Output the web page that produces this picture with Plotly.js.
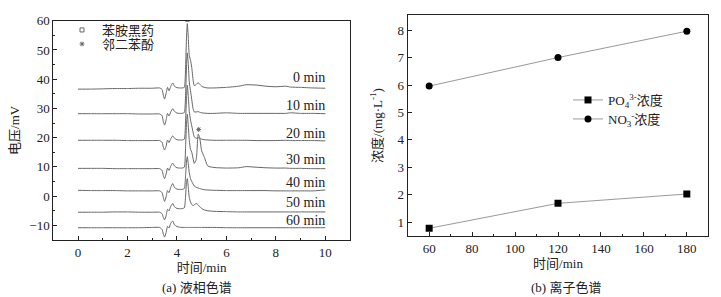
<!DOCTYPE html>
<html>
<head>
<meta charset="utf-8">
<script src="https://cdn.plot.ly/plotly-3.0.1.min.js"></script>
<style>html,body{margin:0;padding:0;background:#fff;}#chart{width:721px;height:297px;}</style>
</head>
<body>
<div id="chart"></div>
<script>
// ---- (a) liquid chromatogram data (time in min, voltage in mV) ----
const lcTime = [0, 0.5, 1, 1.5, 2, 2.5, 3, 3.3, 3.4, 3.45, 3.5, 3.56, 3.62, 3.68, 3.75, 3.83, 3.9, 4.0, 4.1, 4.2, 4.3, 4.35, 4.39, 4.42, 4.46, 4.5, 4.55, 4.6, 4.65, 4.7, 4.78, 4.86, 4.92, 5.0, 5.1, 5.25, 5.5, 6.0, 6.5, 6.8, 7.2, 7.6, 8.0, 8.4, 8.6, 9.0, 9.5, 10];
const lc0min  = [36.6,36.6,36.7,36.8,36.8,36.9,36.9,37.0,36.5,34.5,33.2,35.0,37.2,36.0,37.5,38.7,37.6,37.1,37.0,37.0,37.2,44,55,59.0,54,48,46.5,44,40,37.8,38.2,38.8,38.3,37.6,37.2,37.0,37.0,37.2,37.6,38.1,38.0,37.6,37.4,37.6,37.3,37.2,37.0,36.9];
const lc10min = [28.2,28.2,28.2,28.2,28.2,28.1,28.1,28.1,27.5,25.5,24.3,26.0,28.3,27.4,28.8,29.9,29.0,28.4,28.3,28.3,28.6,35,45,49,45,39,36,33,30,28.8,28.8,28.9,28.7,28.5,28.4,28.3,28.3,28.5,28.3,28.3,28.3,28.3,28.3,28.3,28.5,28.3,28.3,28.2];
const lc20min = [19.1,19.1,19.1,19.1,19.0,19.0,19.0,19.0,18.4,16.8,15.8,17.0,19.2,18.3,19.6,20.6,19.8,19.3,19.2,19.2,19.5,26,34,38,34,29,26,24,22,20.3,19.8,20.0,19.8,19.5,19.3,19.2,19.1,19.1,19.1,19.1,19.0,19.0,19.0,19.1,19.0,19.0,19.0,18.9];
const lc30min = [9.5,9.5,9.5,9.4,9.4,9.4,9.4,9.4,8.8,7.0,6.0,7.5,9.6,8.8,10.2,11.3,10.3,9.7,9.6,9.6,9.9,17,25,28,24,19,16,15,13,11.2,12.5,21.2,20.0,15.5,13.5,10.3,9.8,9.6,9.7,10.1,9.9,9.7,9.6,9.6,9.5,9.5,9.4,9.4];
const lc40min = [2.0,1.9,1.9,1.9,1.8,1.8,1.8,1.8,1.2,-0.5,-1.8,-0.3,1.9,1.2,3.0,4.3,3.0,2.4,2.3,2.3,2.6,7,12,13.5,11,8,6,5,4.2,3.5,3.0,2.8,2.6,2.4,2.2,2.1,2.0,1.9,1.9,1.9,1.9,1.9,1.8,1.8,1.8,1.8,1.8,2.1];
const lc50min = [-5.5,-5.5,-5.5,-5.4,-5.4,-5.5,-5.5,-5.5,-6.0,-7.3,-8.1,-6.8,-4.5,-5.0,-3.5,-2.5,-3.6,-4.2,-4.3,-4.3,-4.0,0,5,6.0,3,-0.5,-2,-2.8,-3.3,-3.0,-2.5,-3.0,-3.6,-4.2,-4.7,-5.0,-5.2,-5.3,-5.4,-5.4,-5.4,-5.4,-5.4,-5.4,-5.4,-5.4,-5.4,-5.4];
const lc60min = [-10.8,-10.8,-10.8,-10.8,-10.8,-10.8,-10.7,-10.7,-11.4,-13.0,-14.0,-12.5,-10.3,-10.9,-9.3,-8.5,-9.8,-10.4,-10.6,-10.7,-10.7,-10.7,-10.7,-10.7,-10.7,-10.7,-10.7,-10.7,-10.7,-10.7,-10.7,-10.7,-10.7,-10.7,-10.7,-10.7,-10.7,-10.8,-10.8,-10.8,-10.8,-10.8,-10.8,-10.8,-10.8,-10.8,-10.8,-10.8];
const lcSeries = [lc0min, lc10min, lc20min, lc30min, lc40min, lc50min, lc60min];
const lcLabels = ['0 min', '10 min', '20 min', '30 min', '40 min', '50 min', '60 min'];
const lcLabelY = [40.5, 31.0, 21.4, 12.6, 4.7, -2.1, -8.5];
// peak markers
const aniPeakX = [4.42], aniPeakY = [60.5];          // 苯胺黑药
const catPeakX = [4.88], catPeakY = [22.8];          // 邻二苯酚

// ---- (b) ion chromatography data ----
const icTime = [60, 120, 180];
const po4 = [0.78, 1.69, 2.03];
const no3 = [5.96, 7.00, 7.96];

const serif = 'Liberation Serif, Times New Roman, Noto Sans CJK SC, serif';
const txt = '#222';
const gray = '#666';

const traces = [];
lcSeries.forEach((ys, i) => {
  traces.push({x: lcTime, y: ys, type: 'scatter', mode: 'lines', xaxis: 'x', yaxis: 'y',
    line: {color: gray, width: 1, shape: 'spline', smoothing: 0.5}, showlegend: false, hoverinfo: 'skip'});
});
traces.push({x: aniPeakX, y: aniPeakY, type: 'scatter', mode: 'markers', name: '苯胺黑药', xaxis: 'x', yaxis: 'y',
  marker: {symbol: 'square-open', size: 4, color: gray, line: {width: 1, color: gray}}, legend: 'legend'});
traces.push({x: catPeakX, y: catPeakY, type: 'scatter', mode: 'markers', name: '邻二苯酚', xaxis: 'x', yaxis: 'y',
  marker: {symbol: 'asterisk-open', size: 4, color: gray, line: {width: 1, color: gray}}, legend: 'legend3'});

traces.push({x: icTime, y: po4, type: 'scatter', mode: 'lines+markers', name: 'PO<sub>4</sub><sup>3-</sup>浓度',
  xaxis: 'x2', yaxis: 'y2', line: {color: '#999', width: 1}, marker: {symbol: 'square', size: 7, color: '#000'}, legend: 'legend2'});
traces.push({x: icTime, y: no3, type: 'scatter', mode: 'lines+markers', name: 'NO<sub>3</sub><sup>-</sup>浓度',
  xaxis: 'x2', yaxis: 'y2', line: {color: '#999', width: 1}, marker: {symbol: 'circle', size: 7, color: '#000'}, legend: 'legend4'});

const axBase = {showline: true, linecolor: '#222', linewidth: 1, mirror: true, ticks: 'inside', ticklen: 4,
  tickcolor: '#222', showgrid: false, zeroline: false, tickfont: {family: serif, size: 13, color: txt}};

const annotations = lcLabels.map((s, i) => ({x: 10.05, y: lcLabelY[i], xref: 'x', yref: 'y', text: s,
  showarrow: false, xanchor: 'right', yanchor: 'middle', font: {family: serif, size: 14, color: txt}}));
const captions = [['(a) 液相色谱', 197, 287], ['(b) 离子色谱', 566, 287]];
captions.forEach(c => annotations.push({x: c[1] / 721, y: 1 - c[2] / 297, xref: 'paper', yref: 'paper', text: c[0],
  showarrow: false, xanchor: 'center', yanchor: 'middle', font: {family: serif, size: 13, color: txt}}));

const legBase = {xanchor: 'left', yanchor: 'middle', bgcolor: 'rgba(0,0,0,0)', font: {family: serif, size: 13, color: txt},
  itemwidth: 30, borderwidth: 0};

const layout = {
  width: 721, height: 297, margin: {l: 0, r: 0, t: 0, b: 0}, paper_bgcolor: '#fff', plot_bgcolor: '#fff',
  font: {family: serif, size: 13, color: txt},
  xaxis: Object.assign({}, axBase, {domain: [53.3/721, 350/721], range: [-1, 11], dtick: 2, tick0: 0,
    minor: {ticks: 'inside', dtick: 1, ticklen: 2, tickcolor: '#222'}, anchor: 'y',
    title: {text: '时间/min', font: {family: serif, size: 13, color: txt}, standoff: 4}}),
  yaxis: Object.assign({}, axBase, {domain: [1 - 240/297, 1 - 20.7/297], range: [-15, 60], dtick: 10, tick0: 0,
    minor: {ticks: 'inside', dtick: 5, ticklen: 2, tickcolor: '#222'}, anchor: 'x',
    title: {text: '电压/mV', font: {family: serif, size: 13, color: txt}, standoff: 6}}),
  xaxis2: Object.assign({}, axBase, {domain: [407.7/721, 708.3/721], range: [50, 190], dtick: 20, tick0: 0,
    minor: {ticks: 'inside', dtick: 10, ticklen: 2, tickcolor: '#222'}, anchor: 'y2',
    title: {text: '时间/min', font: {family: serif, size: 13, color: txt}, standoff: 4}}),
  yaxis2: Object.assign({}, axBase, {domain: [1 - 236/297, 1 - 15/297], range: [0.5, 8.55], dtick: 1, tick0: 0,
    anchor: 'x2', title: {text: '浓度/(mg·L<sup>-1</sup>)', font: {family: serif, size: 13, color: txt}, standoff: 12}}),
  legend:  Object.assign({}, legBase, {x: 62/721, y: 1 - 30/297}),
  legend3: Object.assign({}, legBase, {x: 62/721, y: 1 - 44/297}),
  legend2: Object.assign({}, legBase, {x: 568/721, y: 1 - 100/297}),
  legend4: Object.assign({}, legBase, {x: 568/721, y: 1 - 119/297}),
  annotations: annotations,
  showlegend: true
};

Plotly.newPlot('chart', traces, layout, {displayModeBar: false, staticPlot: true});
</script>
</body>
</html>
